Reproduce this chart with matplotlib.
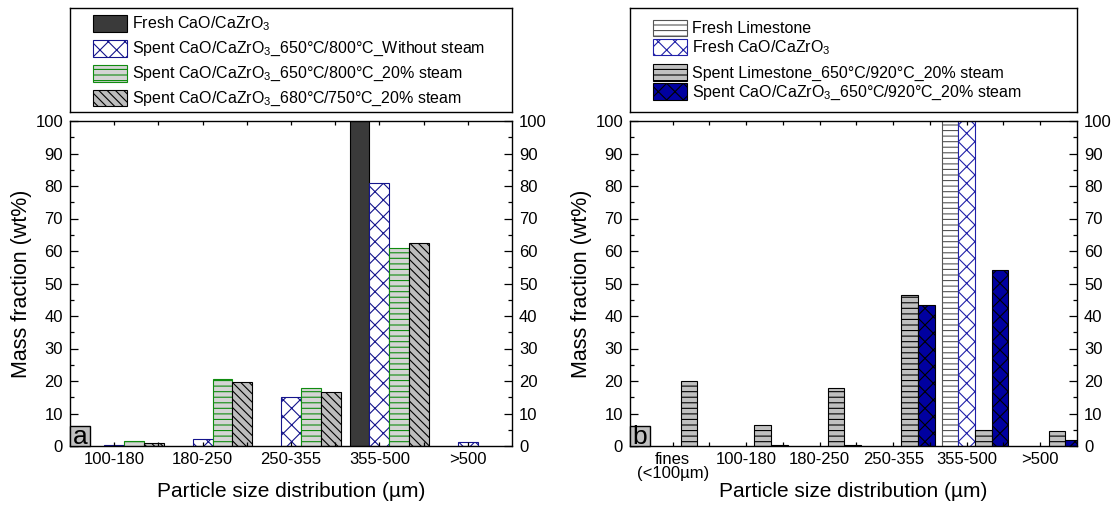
import numpy as np
import matplotlib
matplotlib.use('Agg')
import matplotlib.pyplot as plt
from matplotlib.patches import Rectangle
from matplotlib.ticker import MultipleLocator, FixedLocator

plt.rcParams['font.family'] = ['Liberation Sans', 'DejaVu Sans']
plt.rcParams['mathtext.fontset'] = 'custom'
plt.rcParams['mathtext.rm'] = 'Liberation Sans'
plt.rcParams['mathtext.it'] = 'Liberation Sans:italic'
plt.rcParams['mathtext.default'] = 'regular'
plt.rcParams['hatch.linewidth'] = 0.8

# panel a: CaO/CaZrO3 sorbent
sizes_a = ['100-180', '180-250', '250-355', '355-500', '>500']
fresh_cao_a = [0, 0, 0, 100, 0]
spent_dry_a = [0.3, 2.3, 15.2, 81.0, 1.2]
spent_steam_a = [1.5, 20.6, 17.7, 61.0, 0]
spent_680_a = [1.0, 19.8, 16.7, 62.5, 0]
labels_a = ['Fresh CaO/CaZrO$_3$',
            'Spent CaO/CaZrO$_3$_650°C/800°C_Without steam',
            'Spent CaO/CaZrO$_3$_650°C/800°C_20% steam',
            'Spent CaO/CaZrO$_3$_680°C/750°C_20% steam']

# panel b: limestone vs CaO/CaZrO3
sizes_b = ['fines\n(<100µm)', '100-180', '180-250', '250-355', '355-500', '>500']
fresh_lime_b = [0, 0, 0, 0, 100, 0]
fresh_cao_b = [0, 0, 0, 0, 100, 0]
spent_lime_b = [19.9, 6.6, 18.0, 46.4, 4.9, 4.5]
spent_cao_b = [0, 0.2, 0.4, 43.3, 54.2, 1.9]
labels_b = ['Fresh Limestone',
            'Fresh CaO/CaZrO$_3$',
            'Spent Limestone_650°C/920°C_20% steam',
            'Spent CaO/CaZrO$_3$_650°C/920°C_20% steam']

styles_a = [dict(facecolor='#3a3a3a', edgecolor='black'),
            dict(facecolor='white', edgecolor='#14148c', hatch='xx'),
            dict(facecolor='#d4d4d4', edgecolor='#108c10', hatch='---'),
            dict(facecolor='#bdbdbd', edgecolor='black', hatch='\\\\\\\\')]
styles_b = [dict(facecolor='white', edgecolor='#555555', hatch='---'),
            dict(facecolor='white', edgecolor='#2020a8', hatch='xx'),
            dict(facecolor='#c0c0c0', edgecolor='black', hatch='---'),
            dict(facecolor='#0000a0', edgecolor='black', hatch='xx')]

W, H = 1115, 509
fig = plt.figure(figsize=(W / 100, H / 100), dpi=100)

def px_box(x0, y0, x1, y1):
    return [x0 / W, 1 - y1 / H, (x1 - x0) / W, (y1 - y0) / H]

def draw_panel(ax, sizes, series, styles, xlim, letter):
    x = np.arange(1, len(sizes) + 1)
    w = 0.225
    for i, (vals, st) in enumerate(zip(series, styles)):
        v = np.array(vals, dtype=float)
        v = np.where(v > 0, v, np.nan)
        ax.bar(x + (i - 1.5) * w, v, w, align='edge', linewidth=0.8, **st)
    ax.set_xlim(*xlim)
    ax.set_ylim(0, 100)
    ax.set_xticks(x)
    ax.set_xticklabels(sizes, fontsize=12, linespacing=0.95)
    ax.xaxis.set_minor_locator(FixedLocator(np.arange(1.5, len(sizes), 1)))
    ax.yaxis.set_major_locator(MultipleLocator(10))
    ax.yaxis.set_minor_locator(MultipleLocator(5))
    ax.tick_params(axis='both', which='both', direction='in', top=True, right=True,
                   labelright=True, labelsize=12, width=0.9)
    ax.tick_params(axis='x', which='both', length=3, pad=4)
    ax.tick_params(axis='y', which='major', length=5.5, pad=5)
    ax.tick_params(axis='y', which='minor', length=3)
    for s in ax.spines.values():
        s.set_linewidth(1.0)
    ax.set_xlabel('Particle size distribution (µm)', fontsize=15)
    ax.set_ylabel('Mass fraction (wt%)', fontsize=15.5)
    bw = ax.get_position().width * W
    ax.xaxis.set_label_coords(0.5, -0.112)
    ax.yaxis.set_label_coords(-38 / bw, 0.5)
    ax.add_patch(Rectangle((0, 0), 20 / bw, 20 / 325, transform=ax.transAxes,
                           facecolor='#c0c0c0', edgecolor='black', lw=1.0,
                           zorder=3, clip_on=False))
    ax.text(10 / bw, 1.5 / 325, letter, transform=ax.transAxes, fontsize=19,
            ha='center', va='baseline', zorder=4)

def draw_legend(lax, width, labels, styles, centers):
    lax.set_xlim(0, width)
    lax.set_ylim(104, 0)
    lax.set_xticks([])
    lax.set_yticks([])
    for s in lax.spines.values():
        s.set_linewidth(1.0)
    for lab, st, cy in zip(labels, styles, centers):
        lax.add_patch(Rectangle((22.5, cy - 8.3), 34.5, 16.6, linewidth=0.8, **st))
        lax.text(62.5, cy + 5, lab, fontsize=11.5, ha='left', va='baseline')

ax_a = fig.add_axes(px_box(70, 121, 512, 446))
draw_panel(ax_a, sizes_a, [fresh_cao_a, spent_dry_a, spent_steam_a, spent_680_a],
           styles_a, (0.5, 5.5), 'a')
lax_a = fig.add_axes(px_box(70, 8, 512, 112))
draw_legend(lax_a, 442, labels_a, styles_a, [15.3, 40.3, 65.3, 90])

ax_b = fig.add_axes(px_box(630, 121, 1077, 446))
draw_panel(ax_b, sizes_b, [fresh_lime_b, fresh_cao_b, spent_lime_b, spent_cao_b],
           styles_b, (0.42, 6.5), 'b')
lax_b = fig.add_axes(px_box(630, 8, 1077, 112))
draw_legend(lax_b, 447, labels_b, styles_b, [20, 39, 64.5, 83.7])

fig.savefig('out.png', dpi=100)
